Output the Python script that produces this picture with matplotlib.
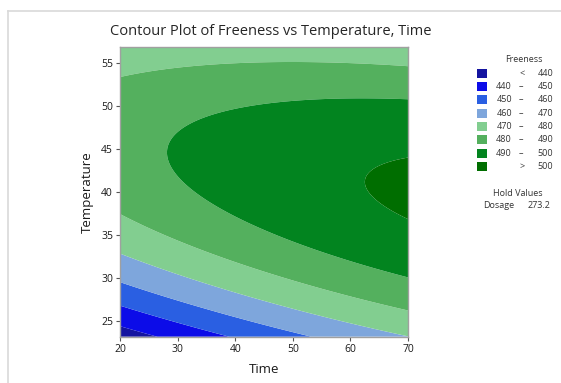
import numpy as np
import matplotlib
matplotlib.use("Agg")
import matplotlib.pyplot as plt
from matplotlib.patches import Rectangle
from matplotlib.lines import Line2D

plt.rcParams["font.family"] = ["Open Sans", "DejaVu Sans"]

# Fitted response surface for Freeness (coded units), Dosage held at 273.2
time_range = (20, 70)
temp_range = (23.18, 56.82)
time_center, time_half = 45.0, 25.0
temp_center, temp_half = 40.0, 16.82
coef_const = 494.783
coef_time = 8.857
coef_temp = 10.382
coef_time_sq = -2.304
coef_temp_sq = -29.974
coef_time_temp = -8.866

levels = [440, 450, 460, 470, 480, 490, 500]
level_labels = ["<  440", "440  –  450", "450  –  460", "460  –  470",
                "470  –  480", "480  –  490", "490  –  500", ">  500"]
colors = ["#1414A0", "#0C0CE8", "#2A5FE2", "#7EA6DC",
          "#82CE90", "#54B05E", "#02841F", "#006E00"]
hold_name, hold_value = "Dosage", "273.2"
x_ticks = [20, 30, 40, 50, 60, 70]
y_ticks = [25, 30, 35, 40, 45, 50, 55]

t = np.linspace(*time_range, 300)
T = np.linspace(*temp_range, 300)
tt, TT = np.meshgrid(t, T)
u = (tt - time_center) / time_half
v = (TT - temp_center) / temp_half
F = (coef_const + coef_time * u + coef_temp * v + coef_time_sq * u ** 2
     + coef_temp_sq * v ** 2 + coef_time_temp * u * v)

fig = plt.figure(figsize=(5.61, 3.83), dpi=100)
ax = fig.add_axes([0.2139, 0.1209, 0.5134, 0.7556])
bounds = [F.min() - 1] + levels + [F.max() + 1]
ax.contourf(tt, TT, F, levels=bounds, colors=colors, antialiased=True)
ax.set_xlim(*time_range)
ax.set_ylim(*temp_range)
ax.set_xticks(x_ticks)
ax.set_yticks(y_ticks)
ax.tick_params(labelsize=7.5, length=3, width=0.8, color="#555555",
               labelcolor="#1A1A1A", pad=2)
for s in ax.spines.values():
    s.set_color("#A0A0A0")
    s.set_linewidth(1.0)
ax.set_xlabel("Time", fontsize=9.5, color="#1A1A1A", labelpad=6)
ax.set_ylabel("Temperature", fontsize=9.5, color="#1A1A1A", labelpad=5)
fig.text(0.482, 0.917, "Contour Plot of Freeness vs Temperature, Time",
         fontsize=10.5, color="#262626", ha="center", va="center",
         fontweight="medium")

# Outer frame
fig.add_artist(Line2D([8 / 561, 8 / 561], [0, 1 - 11 / 383],
                      color="#D9D9D9", lw=1.2, transform=fig.transFigure))
fig.add_artist(Line2D([8 / 561, 1], [1 - 11 / 383, 1 - 11 / 383],
                      color="#D9D9D9", lw=1.2, transform=fig.transFigure))

# Legend
W, H = 561, 383
fig.text(524 / W, 1 - 60 / H, "Freeness", fontsize=6.5, color="#333333",
         ha="center", va="center")
for i, (lab, col) in enumerate(zip(level_labels, colors)):
    yc = 73.3 + i * 13.33
    fig.add_artist(Rectangle((477 / W, 1 - (yc + 4.5) / H), 10 / W, 9 / H,
                             facecolor=col, edgecolor="none",
                             transform=fig.transFigure))
    if lab.startswith("<") or lab.startswith(">"):
        fig.text(522 / W, 1 - yc / H, lab[0], fontsize=6.5, color="#333333",
                 ha="center", va="center")
        fig.text(553 / W, 1 - yc / H, lab.split()[-1], fontsize=6.5,
                 color="#333333", ha="right", va="center")
    else:
        a, _, c = lab.split()
        fig.text(512 / W, 1 - yc / H, a, fontsize=6.5, color="#333333",
                 ha="right", va="center")
        fig.text(521 / W, 1 - yc / H, "–", fontsize=6.5, color="#333333",
                 ha="center", va="center")
        fig.text(553 / W, 1 - yc / H, c, fontsize=6.5, color="#333333",
                 ha="right", va="center")
fig.text(518 / W, 1 - 193 / H, "Hold Values", fontsize=6.5, color="#333333",
         ha="center", va="center")
fig.text(483 / W, 1 - 206 / H, hold_name, fontsize=6.5, color="#333333",
         ha="left", va="center")
fig.text(550 / W, 1 - 206 / H, hold_value, fontsize=6.5, color="#333333",
         ha="right", va="center")

fig.savefig("out.png", dpi=100)
